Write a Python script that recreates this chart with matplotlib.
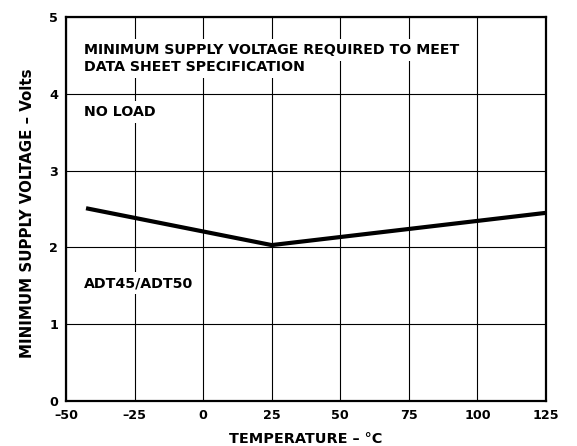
import matplotlib
matplotlib.use("Agg")
import matplotlib.pyplot as plt

# data
temp_c = [-42.7, 25, 125]
min_supply_v = [2.51, 2.03, 2.45]

x_ticks = [-50, -25, 0, 25, 50, 75, 100, 125]
x_tick_labels = ["\u201350", "\u201325", "0", "25", "50", "75", "100", "125"]
y_ticks = [0, 1, 2, 3, 4, 5]

# DejaVu bold is wide enough to match the stretched lettering of the original
plt.rcParams['font.family'] = ['DejaVu Sans']
plt.rcParams['font.weight'] = 'bold'
plt.rcParams['axes.labelweight'] = 'bold'

fig = plt.figure(figsize=(5.77, 4.46), dpi=100)
ax = fig.add_axes([0.1144, 0.1009, 0.8319, 0.861])

ax.set_xlim(-50, 125)
ax.set_ylim(0, 5)
ax.set_xticks(x_ticks)
ax.set_xticklabels(x_tick_labels)
ax.set_yticks(y_ticks)
ax.tick_params(length=0, labelsize=9.2)
ax.tick_params(axis='y', pad=5.5)
ax.tick_params(axis='x', pad=6)

ax.grid(True, color='black', linewidth=0.8)
for s in ax.spines.values():
    s.set_linewidth(1.6)

ax.plot(temp_c, min_supply_v, color='black', linewidth=3, solid_capstyle='butt')

# notes, white box hides the grid behind them
box = dict(facecolor='white', edgecolor='none', pad=2.5)
note_x = -43.4
ax.text(note_x, 4.518, "MINIMUM SUPPLY VOLTAGE REQUIRED TO MEET",
        fontsize=10.2, va='baseline', bbox=box)
ax.text(note_x, 4.297, "DATA SHEET SPECIFICATION",
        fontsize=10.2, va='baseline', bbox=box)
ax.text(note_x, 3.711, "NO LOAD", fontsize=10.2, va='baseline', bbox=box)
ax.text(note_x, 1.484, "ADT45/ADT50", fontsize=10.2, va='baseline', bbox=box)

ax.set_xlabel("TEMPERATURE \u2013 \u00b0C", fontsize=10.4, fontweight='bold', labelpad=7)
ax.set_ylabel("MINIMUM SUPPLY VOLTAGE \u2013 Volts", fontsize=10.8, fontweight='bold')
ax.yaxis.set_label_coords(-0.064, 0.49)

fig.savefig("out.png", dpi=100, facecolor='white')
